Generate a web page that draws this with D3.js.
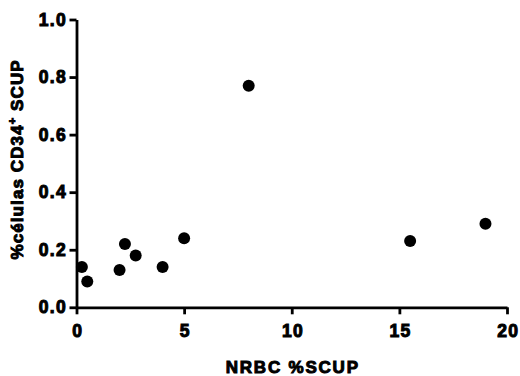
<!DOCTYPE html>
<meta charset="utf-8">
<script src="https://d3js.org/d3.v7.min.js"></script>
<style>
  body { margin: 0; background: #fff; }
  svg text { font-family: "Liberation Sans", Arial, sans-serif; font-weight: bold;
             fill: #000; stroke: #000; stroke-width: 1px; }
</style>
<div id="chart"></div>
<script>
// data
var nrbc   = [0.25, 0.5, 2.0, 2.25, 2.75, 4.0, 5.0, 8.0, 15.5, 19.0];
var cd34   = [0.14, 0.09, 0.13, 0.22, 0.18, 0.14, 0.24, 0.77, 0.23, 0.29];
var xTicks = [0, 5, 10, 15, 20];
var yTicks = [0.0, 0.2, 0.4, 0.6, 0.8, 1.0];

var W = 520, H = 376;
var margin = {top: 19.5, right: 13, bottom: 68.7, left: 76.5};
var width = W - margin.left - margin.right,
    height = H - margin.top - margin.bottom;

var svg = d3.select("#chart").append("svg")
    .attr("width", W).attr("height", H);
var g = svg.append("g")
    .attr("transform", "translate(" + margin.left + "," + margin.top + ")");

var x = d3.scaleLinear().domain([0, 20]).range([0, width]);
var y = d3.scaleLinear().domain([0, 1]).range([height, 0]);

// axes
var xAxis = g.append("g")
    .attr("transform", "translate(0," + height + ")")
    .call(d3.axisBottom(x).tickValues(xTicks).tickSize(7).tickPadding(10).tickSizeOuter(0).tickFormat(d3.format("d")));
var yAxis = g.append("g")
    .call(d3.axisLeft(y).tickValues(yTicks).tickSize(7).tickPadding(2.5).tickSizeOuter(0).tickFormat(d3.format(".1f")));

[xAxis, yAxis].forEach(function(a) {
  a.select(".domain").attr("stroke", "#000").attr("stroke-width", 2.8);
  a.selectAll(".tick line").attr("stroke", "#000").attr("stroke-width", 2.8);
  a.selectAll(".tick text").style("font-size", "17.5px").attr("letter-spacing", "1.3px");
});
xAxis.selectAll(".tick text").attr("dx", "0.65px");

// points
g.selectAll("circle")
  .data(nrbc)
  .enter().append("circle")
    .attr("cx", function(d) { return x(d); })
    .attr("cy", function(d, i) { return y(cd34[i]); })
    .attr("r", 6)
    .attr("fill", "#000");

// axis titles
svg.append("text")
    .attr("x", margin.left + width / 2 + 1)
    .attr("y", 373)
    .attr("text-anchor", "middle")
    .attr("letter-spacing", "1.8px")
    .style("font-size", "17px")
    .text("NRBC %SCUP");

var yt = svg.append("text")
    .attr("transform", "translate(23," + (margin.top + height / 2 - 4) + ") rotate(-90)")
    .attr("text-anchor", "middle")
    .attr("letter-spacing", "1.1px")
    .style("font-size", "17px");
yt.append("tspan").text("%células CD34");
yt.append("tspan").attr("dy", -7).style("font-size", "11px").text("+");
yt.append("tspan").attr("dy", 7).text(" SCUP");
</script>
